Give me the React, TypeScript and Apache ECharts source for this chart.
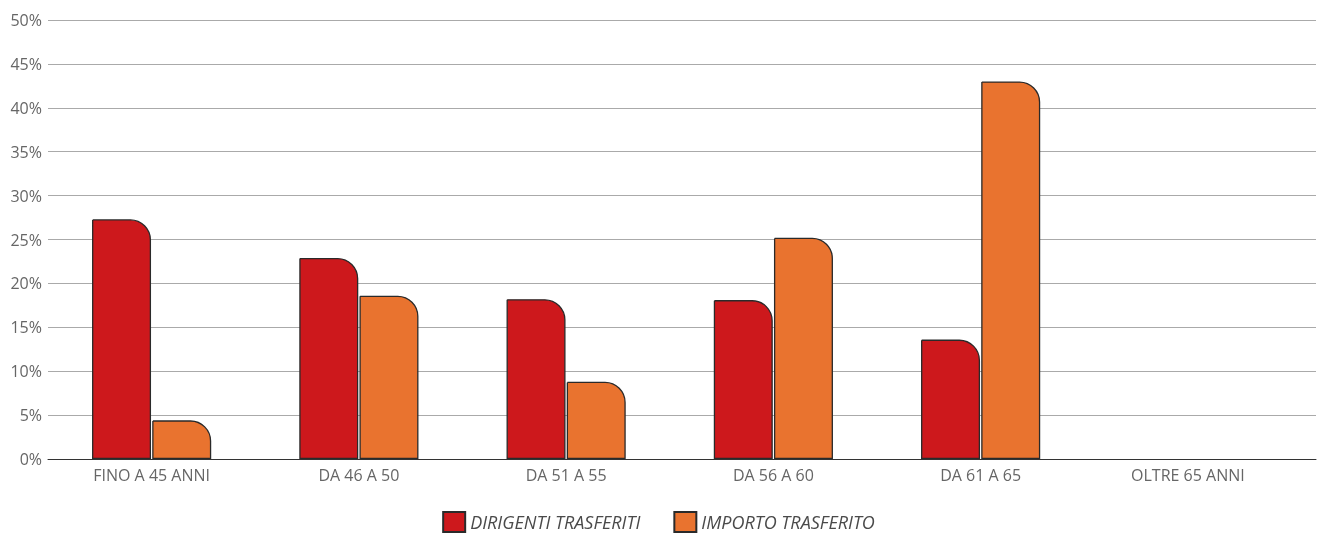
import React, { useEffect, useRef } from "react";
import * as echarts from "echarts";

const categories = ["FINO A 45 ANNI", "DA 46 A 50", "DA 51 A 55", "DA 56 A 60", "DA 61 A 65", "OLTRE 65 ANNI"];
const dirigenti = [27.3, 22.9, 18.2, 18.1, 13.6, 0];
const importo = [4.4, 18.6, 8.8, 25.2, 43.0, 0];
const seriesNames = ["DIRIGENTI TRASFERITI", "IMPORTO TRASFERITO"];
const colors = ["#cd181c", "#e9732f"];

const hideZero = (arr: number[]) => arr.map((v) => (v === 0 ? "-" : v));

export default function App() {
  const ref = useRef<HTMLDivElement>(null);
  useEffect(() => {
    const chart = echarts.init(ref.current!, null, { renderer: "svg" });
    const font = "'Open Sans', sans-serif";
    chart.setOption({
      animation: false,
      textStyle: { fontFamily: font },
      grid: [
        { left: 48, right: 1, top: 20, bottom: 76, containLabel: false },
        { left: 48, right: 25.5, top: 20, bottom: 76, containLabel: false },
      ],
      legend: {
        top: 511,
        left: "center",
        padding: 0,
        itemWidth: 22,
        itemHeight: 20,
        itemGap: 33,
        icon: "rect",
        textStyle: { fontFamily: font, fontSize: 18, lineHeight: 20, fontStyle: "italic", color: "#4a4a4a" },
        data: seriesNames,
      },
      xAxis: [
        {
          type: "category",
          gridIndex: 0,
          data: categories,
          axisLine: { lineStyle: { color: "#333", width: 1 } },
          axisTick: { show: false },
          axisLabel: { show: false },
        },
        {
          type: "category",
          gridIndex: 1,
          data: categories,
          axisLine: { show: false },
          axisTick: { show: false },
          axisLabel: { color: "#666", fontSize: 16, margin: 8, fontFamily: font },
        },
      ],
      yAxis: [
        {
          type: "value",
          gridIndex: 0,
          min: 0,
          max: 50,
          interval: 5,
          axisLabel: { formatter: "{value}%", color: "#666", fontSize: 16, margin: 6, fontFamily: font },
          splitLine: { lineStyle: { color: "#aaa", width: 1 } },
          axisLine: { show: false },
          axisTick: { show: false },
        },
        {
          type: "value",
          gridIndex: 1,
          min: 0,
          max: 50,
          interval: 5,
          axisLabel: { show: false },
          splitLine: { show: false },
          axisLine: { show: false },
          axisTick: { show: false },
        },
      ],
      series: [
        {
          name: seriesNames[0],
          type: "bar",
          xAxisIndex: 1,
          yAxisIndex: 1,
          data: hideZero(dirigenti),
          barWidth: 59,
          barGap: "2%",
          itemStyle: { color: colors[0], borderColor: "#2a2a2a", borderWidth: 1.3, borderRadius: [0, 20, 0, 0] },
        },
        {
          name: seriesNames[1],
          type: "bar",
          xAxisIndex: 1,
          yAxisIndex: 1,
          data: hideZero(importo),
          barWidth: 59,
          itemStyle: { color: colors[1], borderColor: "#2a2a2a", borderWidth: 1.3, borderRadius: [0, 20, 0, 0] },
        },
      ],
    });
    return () => chart.dispose();
  }, []);
  return <div ref={ref} style={{ position: "fixed", left: 0, top: 0, width: 1317, height: 535 }} />;
}
